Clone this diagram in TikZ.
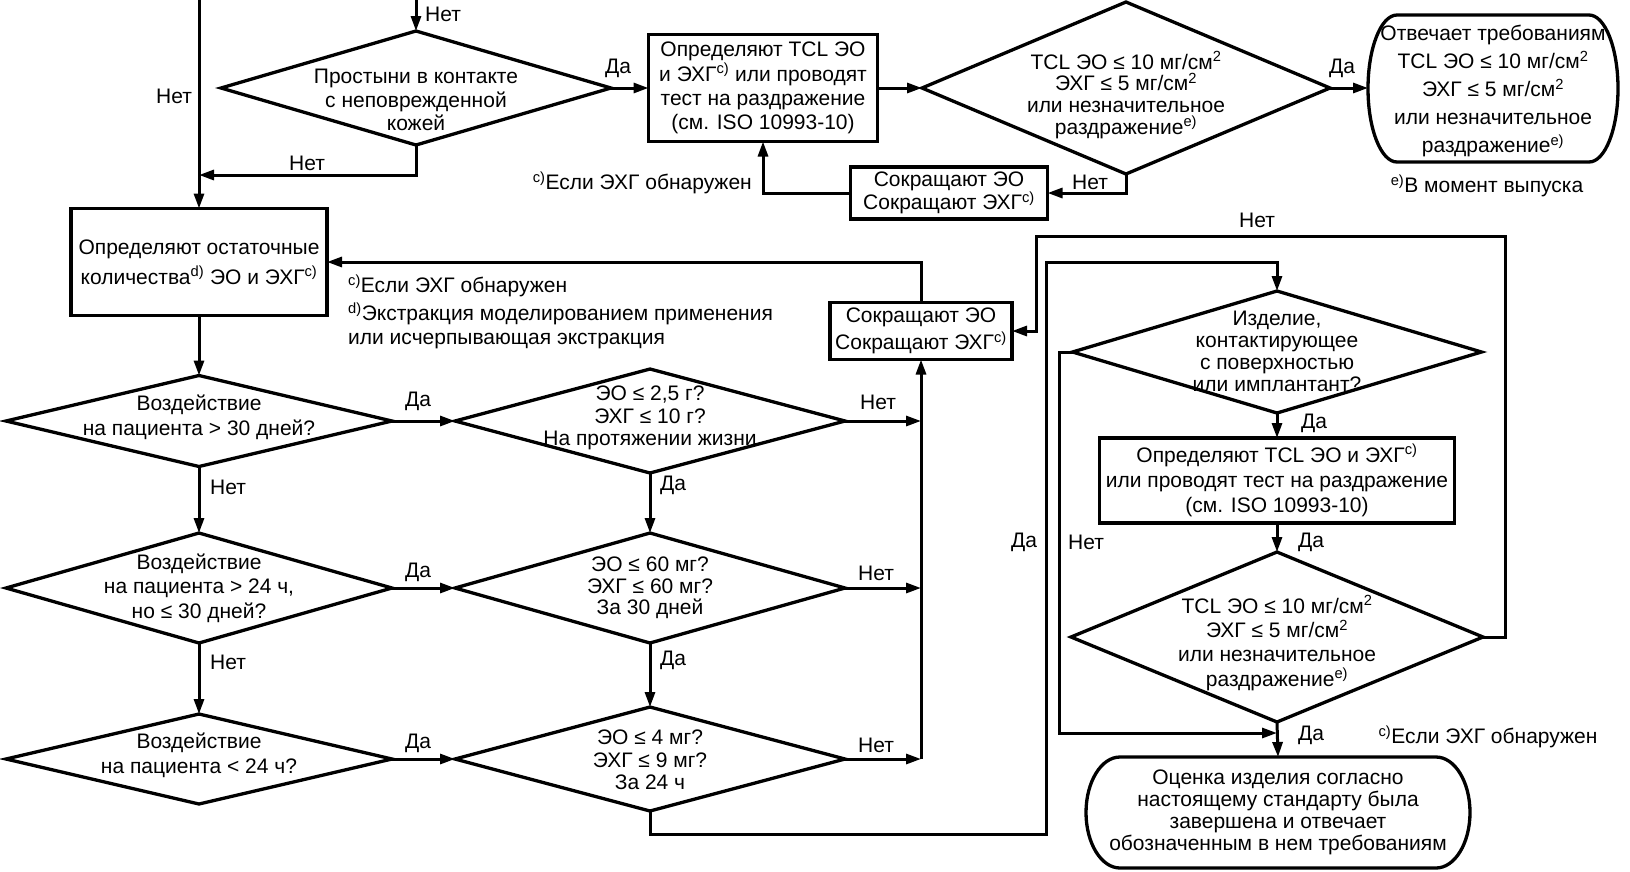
\documentclass[tikz,border=0pt]{standalone}
\usepackage{fontspec}
\setmainfont{Liberation Sans}
\usetikzlibrary{shapes.geometric,arrows.meta}
\begin{document}
\begin{tikzpicture}[x=1pt,y=-1pt,
  ls/.style={font=\fontsize{21}{#1}\selectfont},
  every node/.style={ls=24},
  dia/.style={draw, shape=diamond, line width=3.3pt, inner sep=0pt, outer sep=0pt},
  box/.style={draw, rectangle, line width=3.3pt, inner sep=0pt, outer sep=0pt, align=center},
  term/.style={rectangle, inner sep=0pt, outer sep=0pt},
  outline/.style={line width=3.3pt},
  txt/.style={align=center, inner sep=0pt},
  lbl/.style={inner sep=0pt},
  con/.style={line width=3pt},
  arr/.style={con, -{Triangle[length=15pt,width=10pt]}},
]
\fill[white] (0,0) rectangle (1630,871);
\useasboundingbox (0,0) rectangle (1630,871);

% ---------- top row ----------
\node[dia, minimum width=390pt, minimum height=114pt] (d1) at (416,88) {};
\node[txt, ls=23.5] at (416,100) {Простыни в контакте\\с неповрежденной\\кожей};

\node[box, minimum width=229pt, minimum height=107pt, ls=24.3] (b1) at (763,88) {Определяют TCL ЭО\\и ЭХГ\textsuperscript{c)} или проводят\\тест на раздражение\\(см. ISO 10993-10)};

\node[dia, minimum width=408pt, minimum height=172pt] (d2) at (1126,88) {};
\node[txt, ls=21.7] at (1126,95) {TCL ЭО ≤ 10 мг/см\textsuperscript{2}\\ЭХГ ≤ 5 мг/см\textsuperscript{2}\\или незначительное\\раздражение\textsuperscript{e)}};

\node[term, minimum width=250pt, minimum height=147pt] (t1) at (1493,88.5) {};
\draw[outline] ([xshift=29pt]t1.north west) -- ([xshift=-29pt]t1.north east)
  arc[start angle=-90, end angle=90, x radius=29, y radius=73.5]
  -- ([xshift=29pt]t1.south west)
  arc[start angle=90, end angle=270, x radius=29, y radius=73.5] -- cycle;
\node[txt, ls=28] at (1493,91) {Отвечает требованиям\\TCL ЭО ≤ 10 мг/см\textsuperscript{2}\\ЭХГ ≤ 5 мг/см\textsuperscript{2}\\или незначительное\\раздражение\textsuperscript{e)}};

\node[box, minimum width=197pt, minimum height=52pt, ls=23] (b2) at (949,193) {Сокращают ЭО\\Сокращают ЭХГ\textsuperscript{c)}};

% ---------- middle ----------
\node[box, minimum width=256pt, minimum height=107pt, ls=30] (b3) at (199,262) {Определяют остаточные\\количества\textsuperscript{d)} ЭО и ЭХГ\textsuperscript{c)}};

\node[box, minimum width=182pt, minimum height=57pt, ls=27] (b4) at (921,331) {Сокращают ЭО\\Сокращают ЭХГ\textsuperscript{c)}};

\node[dia, minimum width=386pt, minimum height=91pt] (d3) at (199,421) {};
\node[txt, ls=25] at (199,417) {Воздействие\\на пациента > 30 дней?};

\node[dia, minimum width=390pt, minimum height=104pt] (d4) at (650,421) {};
\node[txt, ls=22.5] at (650,418) {ЭО ≤ 2,5 г?\\ЭХГ ≤ 10 г?\\На протяжении жизни};

\node[dia, minimum width=386pt, minimum height=110pt] (d5) at (199,588) {};
\node[txt, ls=24.5] at (199,588) {Воздействие\\на пациента > 24 ч,\\но ≤ 30 дней?};

\node[dia, minimum width=390pt, minimum height=110pt] (d6) at (650,588) {};
\node[txt, ls=21.5] at (650,588) {ЭО ≤ 60 мг?\\ЭХГ ≤ 60 мг?\\За 30 дней};

\node[dia, minimum width=386pt, minimum height=90pt] (d7) at (199,759) {};
\node[txt, ls=25] at (199,755) {Воздействие\\на пациента < 24 ч?};

\node[dia, minimum width=390pt, minimum height=104pt] (d8) at (650,759) {};
\node[txt, ls=22.5] at (650,760) {ЭО ≤ 4 мг?\\ЭХГ ≤ 9 мг?\\За 24 ч};

% ---------- right ----------
\node[dia, minimum width=409pt, minimum height=122pt] (d9) at (1277,352) {};
\node[txt, ls=22] at (1277,351) {Изделие,\\контактирующее\\с поверхностью\\или имплантант?};

\node[box, minimum width=355pt, minimum height=85pt, ls=25] (b5) at (1277,480.5) {Определяют TCL ЭО и ЭХГ\textsuperscript{c)}\\или проводят тест на раздражение\\(см. ISO 10993-10)};

\node[dia, minimum width=412pt, minimum height=170pt] (d10) at (1277,637) {};
\node[txt, ls=24.3] at (1277,643) {TCL ЭО ≤ 10 мг/см\textsuperscript{2}\\ЭХГ ≤ 5 мг/см\textsuperscript{2}\\или незначительное\\раздражение\textsuperscript{e)}};

\node[term, minimum width=384pt, minimum height=111pt] (t2) at (1278,812.5) {};
\draw[outline] ([xshift=34pt]t2.north west) -- ([xshift=-34pt]t2.north east)
  arc[start angle=-90, end angle=90, x radius=34, y radius=55.5]
  -- ([xshift=34pt]t2.south west)
  arc[start angle=90, end angle=270, x radius=34, y radius=55.5] -- cycle;
\node[txt, ls=22] at (1278,812.5) {Оценка изделия согласно\\настоящему стандарту была\\завершена и отвечает\\обозначенным в нем требованиям};

% ---------- coordinates ----------
\coordinate (ltop) at (199,0);
\coordinate (ttop) at (416,0);
\coordinate (lj) at (199,175);
\coordinate (j4) at (921,421);
\coordinate (j6) at (921,588);
\coordinate (j8) at (921,759);
\coordinate (ya) at (1046,834);
\coordinate (yb) at (1046,262);
\coordinate (n1) at (1059,733);
\coordinate (jn) at (1277,733);
\coordinate (o1) at (1505,236);
\coordinate (o2) at (1036,236);

% ---------- connectors ----------
\draw[arr] (ltop) -- (b3.north);
\draw[arr] (ttop) -- (d1.north);
\draw[arr] (d1.south) |- (lj);
\draw[arr] (d1.east) -- (d1.east -| b1.west);
\draw[arr] (b1.east) -- (d2.west);
\draw[arr] (d2.east) -- (d2.east -| t1.west);
\draw[arr] (d2.south) |- (b2.east);
\draw[arr] (b2.west) -| (b1.south);
\draw[arr] (b4.north) |- (b3.east);
\draw[arr] (b3.south) -- (d3.north);
\draw[arr] (d3.east) -- (d4.west);
\draw[arr] (d4.east) -- (j4);
\draw[arr] (d3.south) -- (d5.north);
\draw[arr] (d5.east) -- (d6.west);
\draw[arr] (d4.south) -- (d6.north);
\draw[arr] (d6.east) -- (j6);
\draw[arr] (d5.south) -- (d7.north);
\draw[arr] (d7.east) -- (d8.west);
\draw[arr] (d6.south) -- (d8.north);
\draw[arr] (d8.east) -- (j8);
\draw[arr] (j8) -- (b4.south);
\draw[arr] (d8.south) |- (ya) -- (yb) -| (d9.north);
\draw[arr] (d9.south) -- (b5.north);
\draw[arr] (d9.west) -| (n1) -- (jn);
\draw[arr] (b5.south) -- (d10.north);
\draw[arr] (d10.south) -- (t2.north);
\draw[arr] (d10.east) -| (o1) -- (o2) |- (b4.east);

% ---------- labels ----------
\node[lbl] at (174,96) {Нет};
\node[lbl] at (443,14) {Нет};
\node[lbl] at (618,68) {Да};
\node[lbl] at (307,163) {Нет};
\node[lbl] at (1342,68) {Да};
\node[lbl] at (1090,182) {Нет};
\node[lbl, anchor=east] at (752,183) {\textsuperscript{c)}Если ЭХГ обнаружен};
\node[lbl] at (1487,186) {\textsuperscript{e)}В момент выпуска};
\node[lbl, anchor=west] at (348,286) {\textsuperscript{c)}Если ЭХГ обнаружен};
\node[lbl, anchor=west] at (348,314) {\textsuperscript{d)}Экстракция моделированием применения};
\node[lbl, anchor=west] at (348,341) {или исчерпывающая экстракция};
\node[lbl] at (418,401) {Да};
\node[lbl] at (878,402) {Нет};
\node[lbl] at (228,487) {Нет};
\node[lbl] at (673,485) {Да};
\node[lbl] at (418,572) {Да};
\node[lbl] at (876,573) {Нет};
\node[lbl] at (228,662) {Нет};
\node[lbl] at (673,660) {Да};
\node[lbl] at (418,743) {Да};
\node[lbl] at (876,745) {Нет};
\node[lbl] at (1257,220) {Нет};
\node[lbl] at (1314,423) {Да};
\node[lbl] at (1024,542) {Да};
\node[lbl] at (1086,542) {Нет};
\node[lbl] at (1311,542) {Да};
\node[lbl] at (1311,735) {Да};
\node[lbl] at (1488,737) {\textsuperscript{c)}Если ЭХГ обнаружен};
\end{tikzpicture}
\end{document}
